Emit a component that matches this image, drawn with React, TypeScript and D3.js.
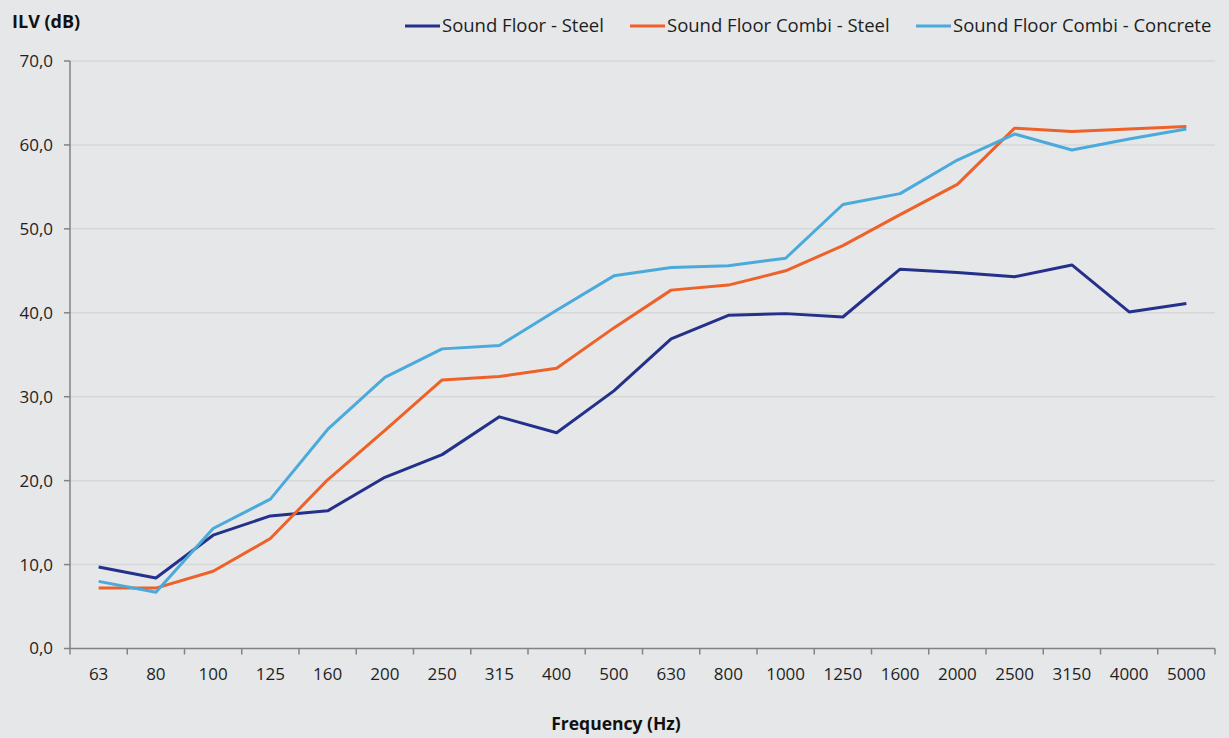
import { useMemo } from "react";
import { scaleBand, scaleLinear, line } from "d3";

const frequencies = [
  "63", "80", "100", "125", "160", "200", "250", "315", "400", "500",
  "630", "800", "1000", "1250", "1600", "2000", "2500", "3150", "4000", "5000",
];

const soundFloorSteel = [
  9.7, 8.4, 13.5, 15.8, 16.4, 20.4, 23.1, 27.6, 25.7, 30.7,
  36.9, 39.7, 39.9, 39.5, 45.2, 44.8, 44.3, 45.7, 40.1, 41.1,
];
const soundFloorCombiSteel = [
  7.2, 7.2, 9.2, 13.1, 20.1, 26.0, 32.0, 32.4, 33.4, 38.2,
  42.7, 43.3, 45.0, 48.0, 51.7, 55.3, 62.0, 61.6, 61.9, 62.2,
];
const soundFloorCombiConcrete = [
  8.0, 6.7, 14.3, 17.8, 26.1, 32.3, 35.7, 36.1, 40.3, 44.4,
  45.4, 45.6, 46.5, 52.9, 54.2, 58.2, 61.3, 59.4, 60.7, 61.9,
];

const yTicks = [0, 10, 20, 30, 40, 50, 60, 70];

const series = [
  { name: "Sound Floor - Steel", values: soundFloorSteel, color: "#24318a" },
  { name: "Sound Floor Combi - Steel", values: soundFloorCombiSteel, color: "#ee6128" },
  { name: "Sound Floor Combi - Concrete", values: soundFloorCombiConcrete, color: "#4aaadb" },
];

const width = 1229;
const height = 738;
const left = 70;
const right = 1215;
const top = 61;
const bottom = 648.5;
const font = "'Open Sans', 'Noto Sans', sans-serif";

export default function App() {
  const { x, y } = useMemo(() => {
    const x = scaleBand<string>().domain(frequencies).range([left, right]);
    const y = scaleLinear().domain([0, 70]).range([bottom, top]);
    return { x, y };
  }, []);

  const path = line<number>()
    .x((_, i) => (x(frequencies[i]) ?? 0) + x.bandwidth() / 2)
    .y((d) => y(d));

  const legendX = [405, 630, 916];

  return (
    <svg
      width={width}
      height={height}
      style={{ position: "absolute", left: 0, top: 0, background: "#e6e7e9" }}
      fontFamily={font}
    >
      <rect width={width} height={height} fill="#e6e7e9" />

      {yTicks.slice(1).map((t) => (
        <line key={t} x1={left} x2={right} y1={y(t)} y2={y(t)} stroke="#d6d7d9" strokeWidth={1.5} />
      ))}

      {/* y axis */}
      <line x1={left} x2={left} y1={top} y2={bottom} stroke="#838383" strokeWidth={1.5} />
      {yTicks.map((t) => (
        <g key={t}>
          <line x1={left - 6} x2={left} y1={y(t)} y2={y(t)} stroke="#838383" strokeWidth={1.5} />
          <text x={53} y={y(t)} dy="0.35em" textAnchor="end" fontSize={17} fill="#1e1e1e">
            {t.toFixed(1).replace(".", ",")}
          </text>
        </g>
      ))}

      {/* x axis */}
      <line x1={left} x2={right} y1={bottom} y2={bottom} stroke="#838383" strokeWidth={1.5} />
      {[...frequencies.map((f) => x(f) ?? 0), right].map((px, i) => (
        <line key={i} x1={px} x2={px} y1={bottom} y2={bottom + 6} stroke="#838383" strokeWidth={1.5} />
      ))}
      {frequencies.map((f) => (
        <text
          key={f}
          x={(x(f) ?? 0) + x.bandwidth() / 2}
          y={674}
          dy="0.35em"
          textAnchor="middle"
          fontSize={17}
          fill="#1e1e1e"
        >
          {f}
        </text>
      ))}

      {series.map((s) => (
        <path
          key={s.name}
          d={path(s.values) ?? ""}
          fill="none"
          stroke={s.color}
          strokeWidth={3}
          strokeLinejoin="round"
        />
      ))}

      {/* legend */}
      {series.map((s, i) => (
        <g key={s.name} transform={`translate(${legendX[i]}, 26)`}>
          <line x1={0} x2={35} y1={0} y2={0} stroke={s.color} strokeWidth={3} />
          <text x={37} y={0} dy="0.35em" fontSize={18.5} fill="#1e1e1e">
            {s.name}
          </text>
        </g>
      ))}

      <text x={12} y={22} dy="0.35em" fontSize={18} fontWeight="bold" fill="#111">
        ILV (dB)
      </text>
      <text x={616} y={724} dy="0.35em" textAnchor="middle" fontSize={17.5} fontWeight="bold" fill="#111">
        Frequency (Hz)
      </text>
    </svg>
  );
}
